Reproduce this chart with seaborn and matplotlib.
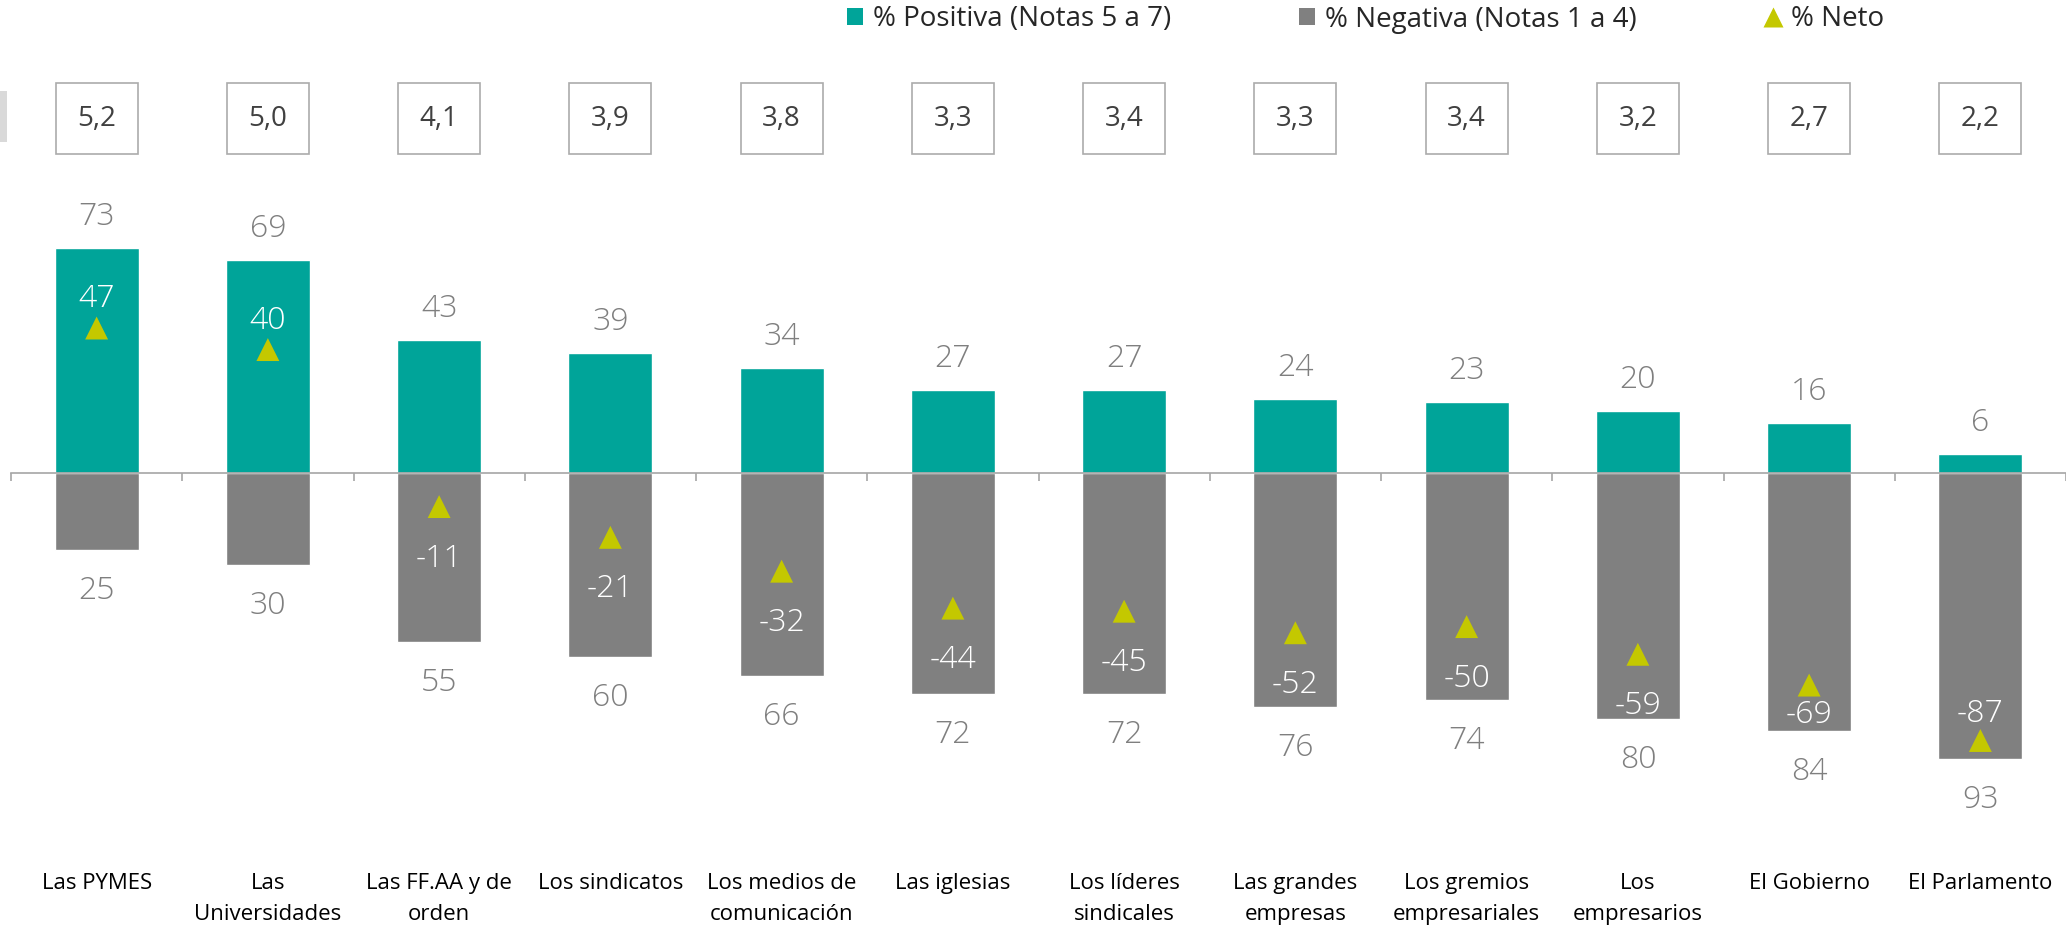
import numpy as np
import pandas as pd
import matplotlib
matplotlib.use("Agg")
import matplotlib.pyplot as plt
import matplotlib.transforms as mtransforms
from matplotlib.patches import Rectangle, Patch
from matplotlib.lines import Line2D
import seaborn as sns

# ---------------- data ----------------
categories = ["Las PYMES", "Las\nUniversidades", "Las FF.AA y de\norden", "Los sindicatos",
              "Los medios de\ncomunicación", "Las iglesias", "Los líderes\nsindicales",
              "Las grandes\nempresas", "Los gremios\nempresariales", "Los\nempresarios",
              "El Gobierno", "El Parlamento"]
positiva = [73, 69, 43, 39, 34, 27, 27, 24, 23, 20, 16, 6]
negativa = [25, 30, 55, 60, 66, 72, 72, 76, 74, 80, 84, 93]
neto = [47, 40, -11, -21, -32, -44, -45, -52, -50, -59, -69, -87]
promedio = [5.2, 5.0, 4.1, 3.9, 3.8, 3.3, 3.4, 3.3, 3.4, 3.2, 2.7, 2.2]
legend_labels = ["% Positiva (Notas 5 a 7)", "% Negativa (Notas 1 a 4)", "% Neto"]

# ---------------- style ----------------
TEAL = "#00A499"
GREY = "#808080"
OLIVE = "#C4C800"
AXIS = "#A6A6A6"
LABEL = "#7F7F7F"

sns.set_theme(style="white")
plt.rcParams["font.family"] = ["Open Sans", "DejaVu Sans"]

W, H = 2066, 925
DPI = 100
fig = plt.figure(figsize=(W / DPI, H / DPI), dpi=DPI)
left_px = 11
ax = fig.add_axes([left_px / W, 0, 1 - left_px / W, 1])

zero_px = 472.7
ppu = 3.078  # pixels per unit
ax.set_ylim(-(H - zero_px) / ppu, zero_px / ppu)

n = len(categories)
df = pd.DataFrame({
    "cat": list(range(n)) * 2,
    "val": list(positiva) + [-v for v in negativa],
    "serie": [legend_labels[0]] * n + [legend_labels[1]] * n,
})
sns.barplot(data=df, x="cat", y="val", hue="serie", dodge=False,
            palette={legend_labels[0]: TEAL, legend_labels[1]: GREY},
            width=0.49, saturation=1, errorbar=None, legend=False, ax=ax,
            native_scale=True, zorder=1)

sns.scatterplot(x=np.arange(n), y=neto, marker="^", s=16.5 ** 2, color=OLIVE,
                edgecolor="none", linewidth=0, legend=False, ax=ax, zorder=4)

ax.set_xlim(-0.5, n - 0.5)
ax.set_ylim(-(H - zero_px) / ppu, zero_px / ppu)

# axis line at zero with boundary tick marks
for s in ["top", "right", "left"]:
    ax.spines[s].set_visible(False)
ax.spines["bottom"].set_position(("data", 0))
ax.spines["bottom"].set_color(AXIS)
ax.spines["bottom"].set_linewidth(1.2)
ax.spines["bottom"].set_zorder(3)
ax.set_xticks(np.arange(-0.5, n, 1.0))
ax.set_xticklabels([])
ax.tick_params(axis="x", direction="out", length=6, width=1.2, color=AXIS, bottom=True)
ax.set_yticks([])
ax.set_xlabel("")
ax.set_ylabel("")
ax.grid(False)

pt = 72 / DPI  # points per pixel
val_fs = 23

for i in range(n):
    # positive / negative labels
    ax.annotate(f"{positiva[i]}", xy=(i, positiva[i]), xytext=(0, 31 * pt),
                textcoords="offset points", ha="center", va="center",
                fontsize=val_fs, color=LABEL, fontweight="light")
    ax.annotate(f"{negativa[i]}", xy=(i, -negativa[i]), xytext=(0, -41 * pt),
                textcoords="offset points", ha="center", va="center",
                fontsize=val_fs, color=LABEL, fontweight="light")
    # neto labels
    if neto[i] > 0:
        off = 29
    elif neto[i] < -80:
        off = 26
    elif neto[i] < -65:
        off = -30
    else:
        off = -52
    ax.annotate(f"{neto[i]}", xy=(i, neto[i]), xytext=(0, off * pt),
                textcoords="offset points", ha="center", va="center",
                fontsize=val_fs, color="white", fontweight="light", zorder=5)

# average score boxes
box_top_px, box_bot_px = 83, 154
y0 = (zero_px - box_bot_px) / ppu
y1 = (zero_px - box_top_px) / ppu
bw = 82 / ((W - left_px) / n)
for i in range(n):
    ax.add_patch(Rectangle((i - bw / 2, y0), bw, y1 - y0, facecolor="white",
                           edgecolor="#ABABAB", linewidth=1.2, zorder=3, clip_on=False))
    ax.text(i, (y0 + y1) / 2, f"{promedio[i]:.1f}".replace(".", ","), ha="center",
            va="center", fontsize=20, color="#404040", zorder=4)

# category labels
trans = mtransforms.blended_transform_factory(ax.transData, ax.transAxes)
for i, c in enumerate(categories):
    ax.text(i, 1 - 873 / H, c, transform=trans, ha="center", va="top",
            fontsize=16, color="black", linespacing=1.6, clip_on=False)

# small grey block at left edge
fig.patches.append(Rectangle((0, 1 - 142 / H), 7 / W, 51 / H, transform=fig.transFigure,
                             facecolor="#D9D9D9", edgecolor="none"))

# legend
handles = [Patch(facecolor=TEAL, edgecolor="none"),
           Patch(facecolor=GREY, edgecolor="none"),
           Line2D([], [], marker="^", linestyle="none", markersize=14,
                  markerfacecolor=OLIVE, markeredgecolor="none")]
leg_fs = 20
fig.legend(handles, legend_labels, loc="center left",
           bbox_to_anchor=(847 / W, 1 - 19.5 / H), ncol=3, frameon=False,
           fontsize=leg_fs, handlelength=0.58, handleheight=0.58,
           handletextpad=0.36, columnspacing=4.6, borderpad=0, borderaxespad=0)

fig.savefig("out.png", dpi=DPI)
